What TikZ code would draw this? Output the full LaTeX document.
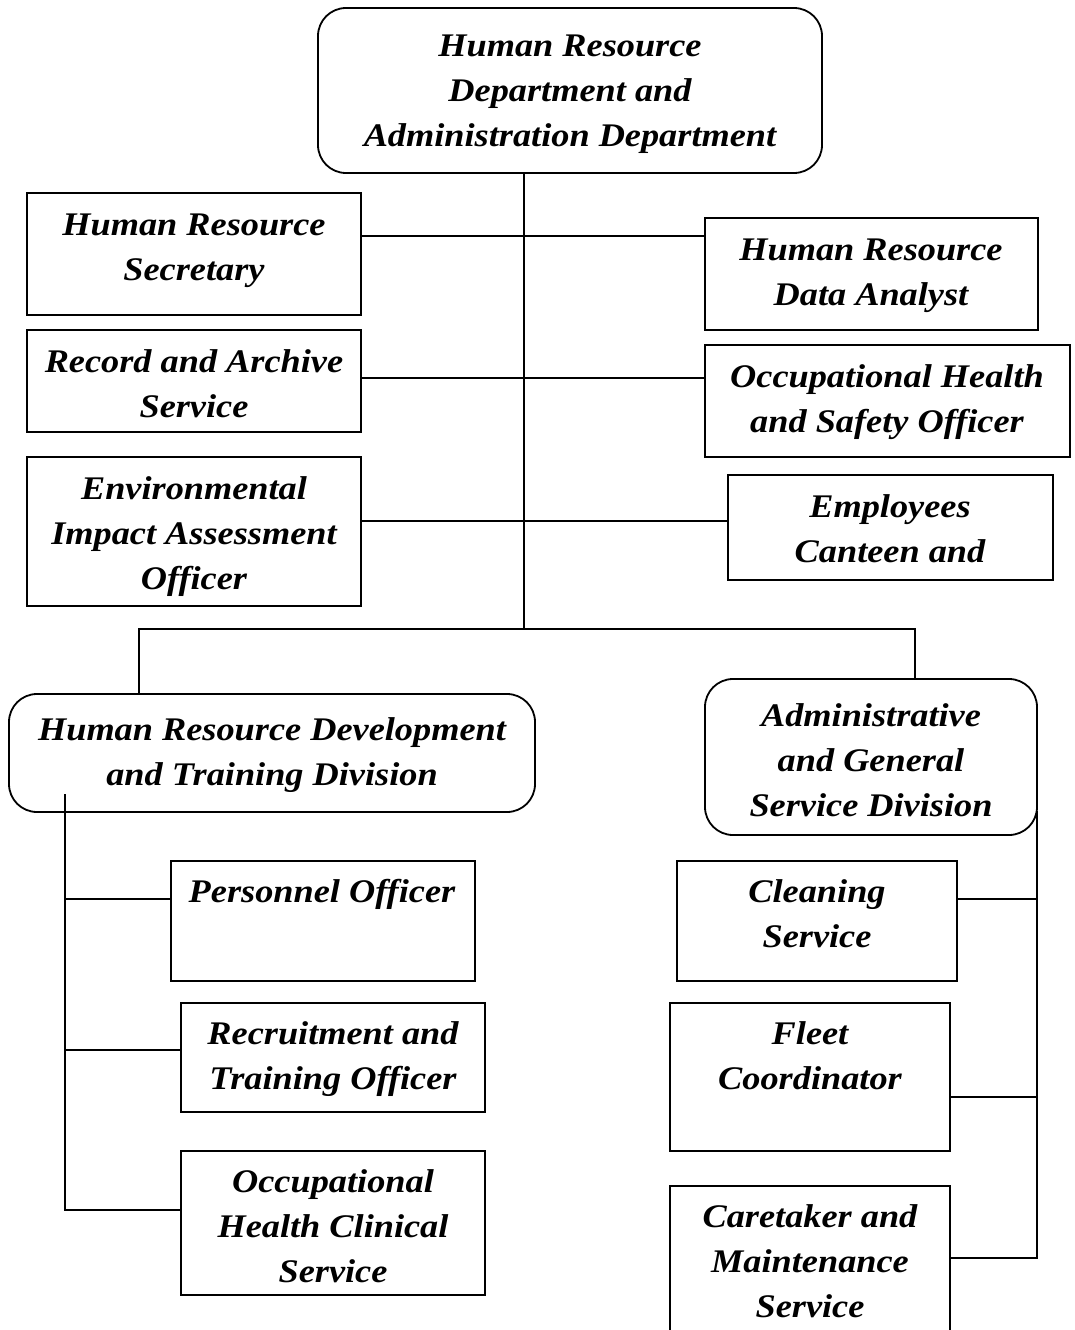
\documentclass[tikz,border=0pt]{standalone}
\usepackage{fontspec}
\newfontfamily\orgfont{Liberation Serif}[FakeStretch=1.1]
\usetikzlibrary{calc}
\tikzset{
  box/.style={draw, line width=1.8pt, inner sep=0pt, outer sep=0pt},
  rbox/.style={box, rounded corners=28pt},
  txt/.style={align=center, inner sep=0pt, anchor=base, font=\orgfont\bfseries\itshape\fontsize{33}{45}\selectfont},
  conn/.style={line width=1.8pt, line cap=rect}
}
\newcommand\bx[6]{\node[#6, anchor=north west, minimum width={#4-#2}, minimum height={#5-#3}] (#1) at (#2,#3) {};}
\begin{document}
\begin{tikzpicture}[x=1pt,y=-1pt]
\clip (0,0) rectangle (1074,1330);
\fill[white] (0,0) rectangle (1074,1330);
% boxes
\bx{top}{318}{8}{822}{173}{rbox}
\bx{sec}{27}{193}{361}{315}{box}
\bx{rec}{27}{330}{361}{432}{box}
\bx{env}{27}{457}{361}{606}{box}
\bx{dat}{705}{218}{1038}{330}{box}
\bx{ohs}{705}{345}{1070}{457}{box}
\bx{can}{728}{475}{1053}{580}{box}
\bx{ldiv}{9}{694}{535}{812}{rbox}
\bx{rdiv}{705}{679}{1037}{835}{rbox}
\bx{per}{171}{861}{475}{981}{box}
\bx{rtr}{181}{1003}{485}{1112}{box}
\bx{ohc}{181}{1151}{485}{1295}{box}
\bx{cle}{677}{861}{957}{981}{box}
\bx{flt}{670}{1003}{950}{1151}{box}
\bx{car}{670}{1186}{950}{1345}{box}
% texts (anchor = baseline of the last line)
\node[txt] (top-t) at (570,146) {Human Resource\\Department and\\Administration Department};
\node[txt] (sec-t) at (194,280) {Human Resource\\Secretary};
\node[txt] (rec-t) at (194,417) {Record and Archive\\Service};
\node[txt] (env-t) at (194,589) {Environmental\\Impact Assessment\\Officer};
\node[txt] (dat-t) at (871,305) {Human Resource\\Data Analyst};
\node[txt] (ohs-t) at (887,432) {Occupational Health\\and Safety Officer};
\node[txt] (can-t) at (890,562) {Employees\\Canteen and};
\node[txt] (ldiv-t) at (272,785) {Human Resource Development\\and Training Division};
\node[txt] (rdiv-t) at (871,816) {Administrative\\and General\\Service Division};
\node[txt] (per-t) at (322,902) {Personnel Officer};
\node[txt] (rtr-t) at (333,1089) {Recruitment and\\Training Officer};
\node[txt] (ohc-t) at (333,1282) {Occupational\\Health Clinical\\Service};
\node[txt] (cle-t) at (817,947) {Cleaning\\Service};
\node[txt] (flt-t) at (810,1089) {Fleet\\Coordinator};
\node[txt] (car-t) at (810,1317) {Caretaker and\\Maintenance\\Service};
% junction coordinates
\coordinate (jA) at (524,629);
\coordinate (jL) at (65,795);
\coordinate (jR) at (1037,812);
% trunk
\draw[conn] (top.south -| jA) -- (jA);
\draw[conn] (sec.east |- 0,236) -- (dat.west |- 0,236);
\draw[conn] (rec.east |- 0,378) -- (ohs.west |- 0,378);
\draw[conn] (env.east |- 0,521) -- (can.west |- 0,521);
\draw[conn] (ldiv.north -| 139,0) -- (139,629) -- (915,629) -- (rdiv.north -| 915,0);
% left branch
\draw[conn] (jL) -- (jL |- 0,1210) -- (ohc.west |- 0,1210);
\draw[conn] (jL |- 0,899) -- (per.west |- 0,899);
\draw[conn] (jL |- 0,1050) -- (rtr.west |- 0,1050);
% right branch
\draw[conn] (jR) -- (jR |- 0,1258) -- (car.east |- 0,1258);
\draw[conn] (jR |- 0,899) -- (cle.east |- 0,899);
\draw[conn] (jR |- 0,1097) -- (flt.east |- 0,1097);
\end{tikzpicture}
\end{document}
